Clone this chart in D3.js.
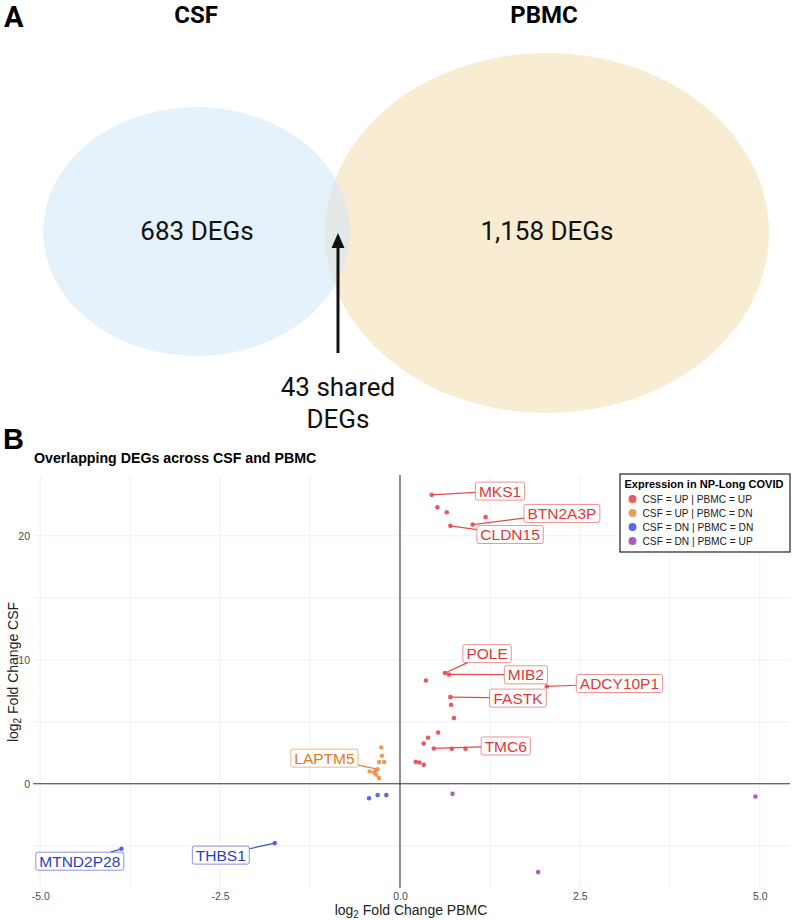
<!DOCTYPE html>
<html>
<head>
<meta charset="utf-8">
<script src="https://cdn.jsdelivr.net/npm/d3@7"></script>
<style>
  body { margin: 0; background: #fff; }
  svg { display: block; }
</style>
</head>
<body>
<div id="chart"></div>
<script>
// ---- panel A: venn counts
const vennSets = ["CSF", "PBMC"];
const vennCounts = ["683 DEGs", "1,158 DEGs"];
const sharedLabel = ["43 shared", "DEGs"];

// ---- panel B: overlapping DEGs
const groups = ["CSF = UP | PBMC = UP", "CSF = UP | PBMC = DN", "CSF = DN | PBMC = DN", "CSF = DN | PBMC = UP"];
const groupColors = ["#e8484d", "#e8944c", "#4f57e6", "#9c4fae"];
const labelColors = ["#e0383a", "#e07a24", "#2b3cc4", "#8e3fa6"];

const pbmcFC = [0.44, 0.52, 0.65, 1.19, 1.01, 0.70, 0.36, 0.625, 0.68, 2.04, 0.70, 0.71, 0.75, 0.53, 0.39, 0.33, 0.47, 0.72, 0.91, 0.22, 0.27, 0.33,
                -0.26, -0.25, -0.29, -0.22, -0.42, -0.36, -0.31, -0.33, -0.29, -0.34,
                -0.43, -0.31, -0.19, -3.87, -1.74,
                0.73, 4.94, 1.92];
const csfFC = [23.3, 22.3, 21.9, 21.5, 20.9, 20.8, 8.33, 8.93, 8.82, 7.85, 6.99, 6.37, 5.3, 4.14, 3.71, 3.25, 2.85, 2.82, 2.82, 1.77, 1.72, 1.53,
               2.93, 2.26, 1.75, 1.75, 0.99, 0.91, 1.18, 0.73, 0.46, 1.05,
               -1.16, -0.91, -0.91, -5.24, -4.78,
               -0.81, -1.02, -7.12];
const groupIdx = [0,0,0,0,0,0,0,0,0,0,0,0,0,0,0,0,0,0,0,0,0,0,
                  1,1,1,1,1,1,1,1,1,1,
                  2,2,2,2,2,
                  3,3,3];
const genes = ["MKS1","","","","BTN2A3P","CLDN15","","POLE","MIB2","ADCY10P1","FASTK","","","","","","TMC6","","","","","",
               "","","","","","","LAPTM5","","","",
               "","","","MTND2P28","THBS1",
               "","",""];
// label box centres as placed by the repel step (data units)
const labelGenes = ["MKS1", "BTN2A3P", "CLDN15", "POLE", "MIB2", "ADCY10P1", "FASTK", "TMC6", "LAPTM5", "MTND2P28", "THBS1"];
const labelX = [1.39, 2.25, 1.53, 1.21, 1.75, 3.05, 1.64, 1.47, -1.05, -4.45, -2.49];
const labelY = [23.6, 21.8, 20.1, 10.5, 8.79, 8.09, 6.91, 3.05, 2.07, -6.24, -5.75];

const xTicks = [-5, -2.5, 0, 2.5, 5];
const xMinor = [-3.75, -1.25, 1.25, 3.75];
const yTicks = [0, 10, 20];
const yMinor = [-5, 5, 15];

const W = 792, H = 920;
const svg = d3.select("#chart").append("svg").attr("width", W).attr("height", H);

// ================= panel A =================
const venn = svg.append("g").attr("class", "venn");
venn.append("ellipse")
    .attr("cx", 547).attr("cy", 233).attr("rx", 222).attr("ry", 180)
    .style("fill", "#f5e6c2").style("opacity", 0.72);
venn.append("ellipse")
    .attr("cx", 196.5).attr("cy", 231.5).attr("rx", 153.5).attr("ry", 124.5)
    .style("fill", "#cfe5f7").style("opacity", 0.55);

svg.append("text").attr("x", 4).attr("y", 27).text("A")
    .style("font-family", "Roboto, sans-serif").style("font-weight", "bold").style("font-size", "29px");

venn.selectAll(".set-name").data(vennSets).enter().append("text")
    .attr("class", "set-name")
    .attr("x", (d, i) => i === 0 ? 196 : 544)
    .attr("y", 23)
    .attr("text-anchor", "middle")
    .style("font-family", "Roboto, sans-serif").style("font-weight", "bold").style("font-size", "24px")
    .text(d => d);

venn.selectAll(".set-count").data(vennCounts).enter().append("text")
    .attr("class", "set-count")
    .attr("x", (d, i) => i === 0 ? 197 : 547)
    .attr("y", 240)
    .attr("text-anchor", "middle")
    .style("font-family", "Roboto, sans-serif").style("font-size", "26px").style("fill", "#111")
    .text(d => d);

// arrow to the overlap
venn.append("line").attr("x1", 338).attr("x2", 338).attr("y1", 353).attr("y2", 245)
    .style("stroke", "#111").style("stroke-width", 3);
venn.append("path").attr("d", "M338,233 L331.5,248 L344.5,248 Z").style("fill", "#111");

venn.selectAll(".shared").data(sharedLabel).enter().append("text")
    .attr("class", "shared")
    .attr("x", 338)
    .attr("y", (d, i) => 396 + i * 32)
    .attr("text-anchor", "middle")
    .style("font-family", "Roboto, sans-serif").style("font-size", "26px").style("fill", "#111")
    .text(d => d);

// ================= panel B =================
const font = "'Liberation Sans', Arial, sans-serif";
svg.append("text").attr("x", 3).attr("y", 449).text("B")
    .style("font-family", font).style("font-weight", "bold").style("font-size", "29px");
svg.append("text").attr("x", 34).attr("y", 463).text("Overlapping DEGs across CSF and PBMC")
    .style("font-family", font).style("font-weight", "bold").style("font-size", "14.2px");

const xScale = d3.scaleLinear().domain([-5.1, 5.42]).range([33, 790]);
const yScale = d3.scaleLinear().domain([-8.4, 24.9]).range([888, 475]);

const grid = svg.append("g").attr("class", "grid");
grid.selectAll(".vx").data(xTicks.concat(xMinor)).enter().append("line")
    .attr("x1", d => xScale(d)).attr("x2", d => xScale(d))
    .attr("y1", yScale.range()[1]).attr("y2", yScale.range()[0])
    .style("stroke", "#ebebeb").style("stroke-width", 0.8);
grid.selectAll(".hy").data(yTicks.concat(yMinor)).enter().append("line")
    .attr("x1", xScale.range()[0]).attr("x2", xScale.range()[1])
    .attr("y1", d => yScale(d)).attr("y2", d => yScale(d))
    .style("stroke", "#ebebeb").style("stroke-width", 0.8);

// zero lines
svg.append("line")
    .attr("x1", xScale.range()[0]).attr("x2", xScale.range()[1])
    .attr("y1", yScale(0)).attr("y2", yScale(0))
    .style("stroke", "#3a3a3a").style("stroke-width", 1.1);
svg.append("line")
    .attr("x1", xScale(0)).attr("x2", xScale(0))
    .attr("y1", yScale.range()[1]).attr("y2", yScale.range()[0])
    .style("stroke", "#3a3a3a").style("stroke-width", 1.1);

const xaxis = d3.axisBottom(xScale).tickValues(xTicks).tickSize(0).tickPadding(0)
    .tickFormat(d => d.toFixed(1));
const yaxis = d3.axisLeft(yScale).tickValues(yTicks).tickSize(0).tickPadding(0);

svg.append("g").attr("class", "x-axis")
    .attr("transform", "translate(0,891)")
    .call(xaxis)
    .call(g => g.select(".domain").remove())
    .selectAll("text")
    .attr("dy", "0.9em")
    .style("font-family", font).style("font-size", "10.5px").style("fill", "#4d4d4d");

svg.append("g").attr("class", "y-axis")
    .attr("transform", "translate(30,0)")
    .call(yaxis)
    .call(g => g.select(".domain").remove())
    .selectAll("text")
    .style("font-family", font).style("font-size", "10.5px").style("fill", "#4d4d4d");

const xt = svg.append("text").attr("x", 411).attr("y", 915).attr("text-anchor", "middle")
    .style("font-family", font).style("font-size", "14px").style("fill", "#222");
xt.append("tspan").text("log");
xt.append("tspan").text("2").attr("dy", 3).style("font-size", "10px");
xt.append("tspan").text(" Fold Change PBMC").attr("dy", -3);

const yt = svg.append("text").attr("transform", "translate(18,672) rotate(-90)").attr("text-anchor", "middle")
    .style("font-family", font).style("font-size", "14px").style("fill", "#222");
yt.append("tspan").text("log");
yt.append("tspan").text("2").attr("dy", 3).style("font-size", "10px");
yt.append("tspan").text(" Fold Change CSF").attr("dy", -3);

// points
const pts = pbmcFC.map((v, i) => ({x: v, y: csfFC[i], g: groupIdx[i], gene: genes[i]}));
const colour = d3.scaleOrdinal().domain(d3.range(groups.length)).range(groupColors);
const labColour = d3.scaleOrdinal().domain(d3.range(groups.length)).range(labelColors);

// labels with connectors
const labels = svg.append("g").attr("class", "labels");
labelGenes.forEach((gname, i) => {
    const p = pts.find(d => d.gene === gname);
    const cx = xScale(labelX[i]), cy = yScale(labelY[i]);
    const col = labColour(p.g);
    const grp = labels.append("g");
    const seg = grp.append("line");
    const rect = grp.append("rect");
    const txt = grp.append("text")
        .attr("x", cx).attr("y", cy).attr("dy", "0.36em")
        .attr("text-anchor", "middle")
        .style("font-family", font).style("font-size", "15.5px").style("fill", col)
        .text(gname);
    const bb = txt.node().getBBox();
    const bw = bb.width + 7, bh = 18;
    rect.attr("x", cx - bw / 2).attr("y", cy - bh / 2).attr("width", bw).attr("height", bh)
        .attr("rx", 2)
        .style("fill", "#fff").style("stroke", col).style("stroke-opacity", 0.55).style("stroke-width", 1);
    // segment from point to edge of box
    const px = xScale(p.x), py = yScale(p.y);
    const dx = px - cx, dy = py - cy;
    const t = Math.min(Math.abs((bw / 2) / (dx || 1e-9)), Math.abs((bh / 2) / (dy || 1e-9)));
    seg.attr("x1", px).attr("y1", py).attr("x2", cx + dx * t).attr("y2", cy + dy * t)
        .style("stroke", col).style("stroke-width", 1.2).style("stroke-opacity", 0.9);
});

svg.append("g").attr("class", "points")
    .selectAll("circle").data(pts).enter().append("circle")
    .attr("cx", d => xScale(d.x)).attr("cy", d => yScale(d.y))
    .attr("r", 2.3)
    .style("fill", d => colour(d.g)).style("opacity", 0.9);

// legend
const lg = svg.append("g").attr("class", "legend").attr("transform", "translate(620,474)");
lg.append("rect").attr("width", 170).attr("height", 78)
    .style("fill", "#fff").style("stroke", "#222").style("stroke-width", 1.2);
lg.append("text").attr("x", 4.5).attr("y", 14).text("Expression in NP-Long COVID")
    .style("font-family", font).style("font-weight", "bold").style("font-size", "11px");
const items = lg.selectAll(".item").data(groups).enter().append("g")
    .attr("transform", (d, i) => `translate(0,${25 + i * 14})`);
items.append("circle").attr("cx", 12.5).attr("cy", 0).attr("r", 4)
    .style("fill", (d, i) => colour(i)).style("opacity", 0.9);
items.append("text").attr("x", 22.5).attr("y", 0).attr("dy", "0.35em").text(d => d)
    .style("font-family", font).style("font-size", "10.2px").style("fill", "#222");
</script>
</body>
</html>
